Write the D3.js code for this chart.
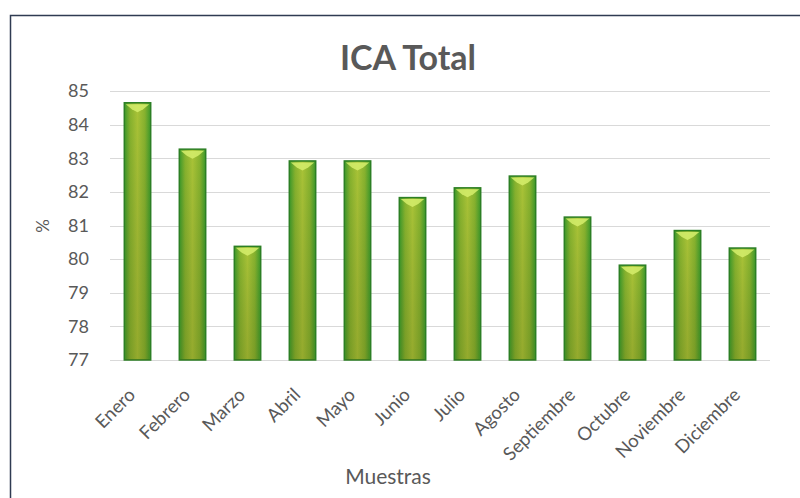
<!DOCTYPE html>
<html>
<head>
<meta charset="utf-8">
<script src="https://cdn.jsdelivr.net/npm/d3@7"></script>
<style>
  body { margin: 0; background: #fff; }
  svg { display: block; }
  text { font-family: Lato, "Open Sans", sans-serif; fill: #595959; }
</style>
</head>
<body>
<svg id="chart" width="800" height="498"></svg>
<script>
// months and ICA values
var months = ["Enero", "Febrero", "Marzo", "Abril", "Mayo", "Junio", "Julio",
              "Agosto", "Septiembre", "Octubre", "Noviembre", "Diciembre"];
var icaValues = [84.65, 83.27, 80.38, 82.92, 82.92, 81.83, 82.12,
                 82.47, 81.25, 79.82, 80.85, 80.33];
var yTicks = [77, 78, 79, 80, 81, 82, 83, 84, 85];

(function () {
  var svg = d3.select("#chart");
  var margin = {top: 91, right: 30, bottom: 138, left: 110};
  var width = +svg.attr("width") - margin.left - margin.right;
  var height = +svg.attr("height") - margin.top - margin.bottom;

  // outer frame, runs off the right and bottom edges
  svg.append("rect")
    .attr("x", 10.5).attr("y", 15.5)
    .attr("width", 820).attr("height", 520)
    .attr("fill", "#fff")
    .attr("stroke", "#2f3b52")
    .attr("stroke-width", 1.5);

  // bar gradient
  var defs = svg.append("defs");
  var grad = defs.append("linearGradient")
    .attr("id", "barGrad")
    .attr("x1", "0%").attr("x2", "100%").attr("y1", "0%").attr("y2", "0%");
  [["0%", "#3c9a2c"], ["22%", "#86b22e"], ["50%", "#a9c337"], ["78%", "#86b22e"], ["100%", "#3c9a2c"]]
    .forEach(function (s) {
      grad.append("stop").attr("offset", s[0]).attr("stop-color", s[1]);
    });
  var shade = defs.append("linearGradient")
    .attr("id", "barShade")
    .attr("x1", "0%").attr("x2", "0%").attr("y1", "0%").attr("y2", "100%");
  shade.append("stop").attr("offset", "0%").attr("stop-color", "#000").attr("stop-opacity", 0);
  shade.append("stop").attr("offset", "100%").attr("stop-color", "#3a3a00").attr("stop-opacity", 0.18);

  var g = svg.append("g")
    .attr("transform", "translate(" + margin.left + "," + margin.top + ")");

  var x = d3.scaleBand().domain(months).range([0, width]).paddingInner(0.52).paddingOuter(0.26);
  var y = d3.scaleLinear().domain([77, 85]).range([height, 0]);

  // gridlines
  g.append("g")
    .selectAll("line")
    .data(yTicks)
    .enter().append("line")
    .attr("x1", 0).attr("x2", width)
    .attr("y1", function (d) { return Math.round(y(d)) + 0.5; })
    .attr("y2", function (d) { return Math.round(y(d)) + 0.5; })
    .attr("stroke", "#d9d9d9")
    .attr("stroke-width", 1);

  // y axis labels
  var yAxis = g.append("g")
    .call(d3.axisLeft(y).tickValues(yTicks).tickSize(0).tickPadding(21).tickFormat(d3.format("d")));
  yAxis.select(".domain").remove();
  yAxis.selectAll("text")
    .style("font-size", "18px")
    .attr("fill", "#595959");

  // bars
  var bars = g.selectAll(".bar")
    .data(icaValues)
    .enter().append("g")
    .attr("class", "bar");

  bars.append("rect")
    .attr("x", function (d, i) { return x(months[i]); })
    .attr("y", function (d) { return y(d); })
    .attr("width", x.bandwidth())
    .attr("height", function (d) { return height - y(d); })
    .attr("fill", "url(#barGrad)")
    .attr("stroke", "#2c7f24")
    .attr("stroke-width", 1.5);

  bars.append("rect")
    .attr("x", function (d, i) { return x(months[i]) + 1; })
    .attr("y", function (d) { return y(d); })
    .attr("width", x.bandwidth() - 2)
    .attr("height", function (d) { return height - y(d); })
    .attr("fill", "url(#barShade)");

  // light bevel at the top of each bar
  bars.append("path")
    .attr("d", function (d, i) {
      var x0 = x(months[i]) + 1.5, x1 = x0 + x.bandwidth() - 3, y0 = y(d) + 1.5;
      return "M" + x0 + "," + y0 + "L" + x1 + "," + y0 + "L" + (x1 - 6) + "," + (y0 + 5) +
             "L" + ((x0 + x1) / 2) + "," + (y0 + 8) + "L" + (x0 + 6) + "," + (y0 + 5) + "Z";
    })
    .attr("fill", "#d6ef6c")
    .attr("opacity", 0.85);

  // x axis labels
  var xAxis = g.append("g")
    .attr("transform", "translate(0," + height + ")")
    .call(d3.axisBottom(x).tickSize(0).tickPadding(0));
  xAxis.select(".domain").remove();
  xAxis.selectAll("text")
    .style("font-size", "18.5px")
    .attr("fill", "#595959")
    .attr("text-anchor", "end")
    .attr("dy", 0)
    .attr("transform", "translate(-1,36) rotate(-45)");

  // title
  svg.append("text")
    .attr("x", 408).attr("y", 70)
    .attr("text-anchor", "middle")
    .style("font-size", "34px")
    .style("font-weight", "bold")
    .text("ICA Total");

  // axis titles
  svg.append("text")
    .attr("transform", "translate(49,226) rotate(-90)")
    .attr("text-anchor", "middle")
    .style("font-size", "17px")
    .text("%");

  svg.append("text")
    .attr("x", 388).attr("y", 484)
    .attr("text-anchor", "middle")
    .style("font-size", "21px")
    .text("Muestras");
}());
</script>
</body>
</html>
